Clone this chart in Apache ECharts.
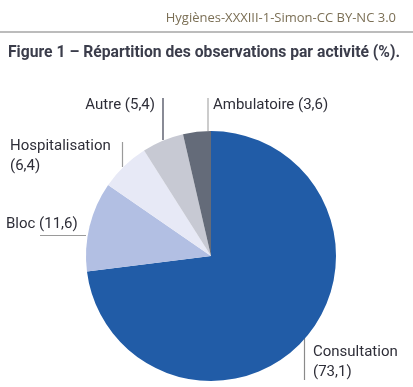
<!DOCTYPE html>
<html><head><meta charset="utf-8">
<script src="https://cdn.jsdelivr.net/npm/echarts@6/dist/echarts.min.js"></script>
<style>html,body{margin:0;padding:0;background:#fff}#c{width:413px;height:387px}</style>
</head><body><div id="c"></div>
<script>
const categories = ['Consultation', 'Bloc', 'Hospitalisation', 'Autre', 'Ambulatoire'];
const values = [73.1, 11.6, 6.4, 5.4, 3.6];
const colors = ['#215ca7', '#b2bfe3', '#e7e9f6', '#c7c9d3', '#646b79'];
const lineColors = ['#8a8a8a', '#9a9a9a', '#9a9a9a', '#3a3d4f', '#aaaaaa'];
const twoLine = [true, false, true, false, false];

// label placements (layout only)
const layouts = [
  {x: 313, y: 362, align: 'left', pts: [[304.5, 338], [304.5, 380], [304.5, 380]]},
  {x: 6, y: 224, align: 'left', pts: [[86, 235.5], [40, 235.5], [40, 235.5]]},
  {x: 10, y: 156, align: 'left', pts: [[122.5, 167], [122.5, 142], [122.5, 142]]},
  {x: 155, y: 105, align: 'right', pts: [[163, 140], [163, 98], [163, 98]]},
  {x: 213, y: 105, align: 'left', pts: [[208, 131], [208, 98], [208, 98]]}
];

const fmt = v => String(v).replace('.', ',');
const chart = echarts.init(document.getElementById('c'));
chart.setOption({
  animation: false,
  title: [
    {text: 'Hygiènes-XXXIII-1-Simon-CC BY-NC 3.0', right: 12, top: 7,
     textStyle: {fontFamily: 'Open Sans', fontSize: 13, fontWeight: 'normal', color: '#7b6f55'}},
    {text: 'Figure 1 – Répartition des observations par activité (%).', left: 3, top: 40,
     textStyle: {fontFamily: 'Roboto', fontSize: 15.7, fontWeight: 'bold', color: '#3b3d4b'}}
  ],
  graphic: [{type: 'line', shape: {x1: 0, y1: 32, x2: 413, y2: 32}, style: {stroke: '#7a7a7a', lineWidth: 1.2}}],
  series: [{
    type: 'pie',
    center: [211, 256],
    radius: 125,
    startAngle: 90,
    clockwise: true,
    data: categories.map((n, i) => ({
      name: n, value: values[i],
      itemStyle: {color: colors[i]},
      labelLine: {lineStyle: {color: lineColors[i], width: 1.2}}
    })),
    label: {
      show: true, overflow: 'none', width: 200,
      fontFamily: 'Roboto', fontSize: 15, color: '#2e2e38', lineHeight: 20,
      formatter: p => p.name + (twoLine[p.dataIndex] ? '\n' : ' ') + '(' + fmt(p.value) + ')'
    },
    labelLine: {show: true, length: 10, length2: 10},
    labelLayout: p => {
      const l = layouts[p.dataIndex];
      return {x: l.x, y: l.y, align: l.align, verticalAlign: 'middle', labelLinePoints: l.pts};
    },
    emphasis: {disabled: true}
  }]
});
</script></body></html>
